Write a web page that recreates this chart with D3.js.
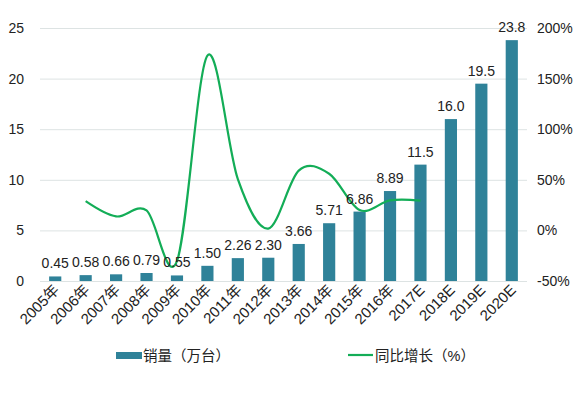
<!DOCTYPE html>
<html><head><meta charset="utf-8">
<script src="https://cdn.jsdelivr.net/npm/d3@7/dist/d3.min.js"></script>
<style>
body{margin:0;background:#fff;}
text{font-family:"Liberation Sans",Arial,"Noto Sans CJK SC",sans-serif;fill:#222;}
</style></head>
<body><svg id="c" width="574" height="394"></svg>
<script>
const categories = ["2005年","2006年","2007年","2008年","2009年","2010年","2011年","2012年","2013年","2014年","2015年","2016年","2017E","2018E","2019E","2020E"];
const sales = [0.45,0.58,0.66,0.79,0.55,1.50,2.26,2.30,3.66,5.71,6.86,8.89,11.5,16.0,19.5,23.8];
const salesLabels = ["0.45","0.58","0.66","0.79","0.55","1.50","2.26","2.30","3.66","5.71","6.86","8.89","11.5","16.0","19.5","23.8"];
const growthCats = ["2006年","2007年","2008年","2009年","2010年","2011年","2012年","2013年","2014年","2015年","2016年","2017E"];
const growth = [28.9,13.8,19.7,-30.4,172.7,50.7,1.8,59.1,56.0,20.1,29.6,29.4];
const leftTicks = [0,5,10,15,20,25];
const rightTicks = [-50,0,50,100,150,200];
const legendNames = ["销量（万台）","同比增长（%）"];

const svg = d3.select("#c");
const x = d3.scaleBand().domain(categories).range([40,527]).paddingInner(0.6).paddingOuter(0.3);
const yL = d3.scaleLinear().domain([0,25]).range([281,28]);
const yR = d3.scaleLinear().domain([-50,200]).range([281,28]);
const barColor = "#2f8299", lineColor = "#13ad57";

// gridlines
svg.append("g").selectAll("line").data(leftTicks).join("line")
  .attr("x1",40).attr("x2",527).attr("y1",d=>yL(d)+0.5).attr("y2",d=>yL(d)+0.5)
  .attr("stroke","#dde3e3").attr("stroke-width",1);

// left axis
const gl = svg.append("g").attr("transform","translate(24,0)")
  .call(d3.axisLeft(yL).tickValues(leftTicks).tickSize(0).tickPadding(0));
gl.select(".domain").remove();
gl.selectAll("text").attr("font-size",14).style("font-family","Liberation Sans, Arial").attr("fill","#222");

// right axis
const gr = svg.append("g").attr("transform","translate(537,0)")
  .call(d3.axisRight(yR).tickValues(rightTicks).tickSize(0).tickPadding(0).tickFormat(d=>d+"%"));
gr.select(".domain").remove();
gr.selectAll("text").attr("font-size",14).style("font-family","Liberation Sans, Arial").attr("fill","#222");

// bars
svg.append("g").selectAll("rect").data(sales).join("rect")
  .attr("x",(d,i)=>x(categories[i])).attr("width",x.bandwidth())
  .attr("y",d=>yL(d)).attr("height",d=>yL(0)-yL(d)).attr("fill",barColor);

// line
const line = d3.line().x((d,i)=>x(growthCats[i])+x.bandwidth()/2).y(d=>yR(d)).curve(d3.curveCatmullRom.alpha(0));
svg.append("path").datum(growth).attr("d",line).attr("fill","none").attr("stroke",lineColor).attr("stroke-width",2.2);

// data labels
svg.append("g").selectAll("text").data(sales).join("text")
  .attr("x",(d,i)=>x(categories[i])+x.bandwidth()/2).attr("y",d=>yL(d)-8)
  .attr("text-anchor","middle").attr("font-size",14).text((d,i)=>salesLabels[i]);

// x labels
svg.append("g").selectAll("text").data(categories).join("text")
  .attr("transform",d=>`translate(${x(d)+x.bandwidth()/2+5},${291}) rotate(-45)`)
  .attr("text-anchor","end").attr("font-size",15).text(d=>d);

// legend
svg.append("rect").attr("x",116).attr("y",352).attr("width",26).attr("height",7).attr("fill",barColor);
svg.append("text").attr("x",143).attr("y",360.5).attr("font-size",14.5).text(legendNames[0]);
svg.append("line").attr("x1",348).attr("x2",373).attr("y1",355).attr("y2",355).attr("stroke",lineColor).attr("stroke-width",2.2);
svg.append("text").attr("x",375).attr("y",360.5).attr("font-size",14.5).text(legendNames[1]);
</script></body></html>
